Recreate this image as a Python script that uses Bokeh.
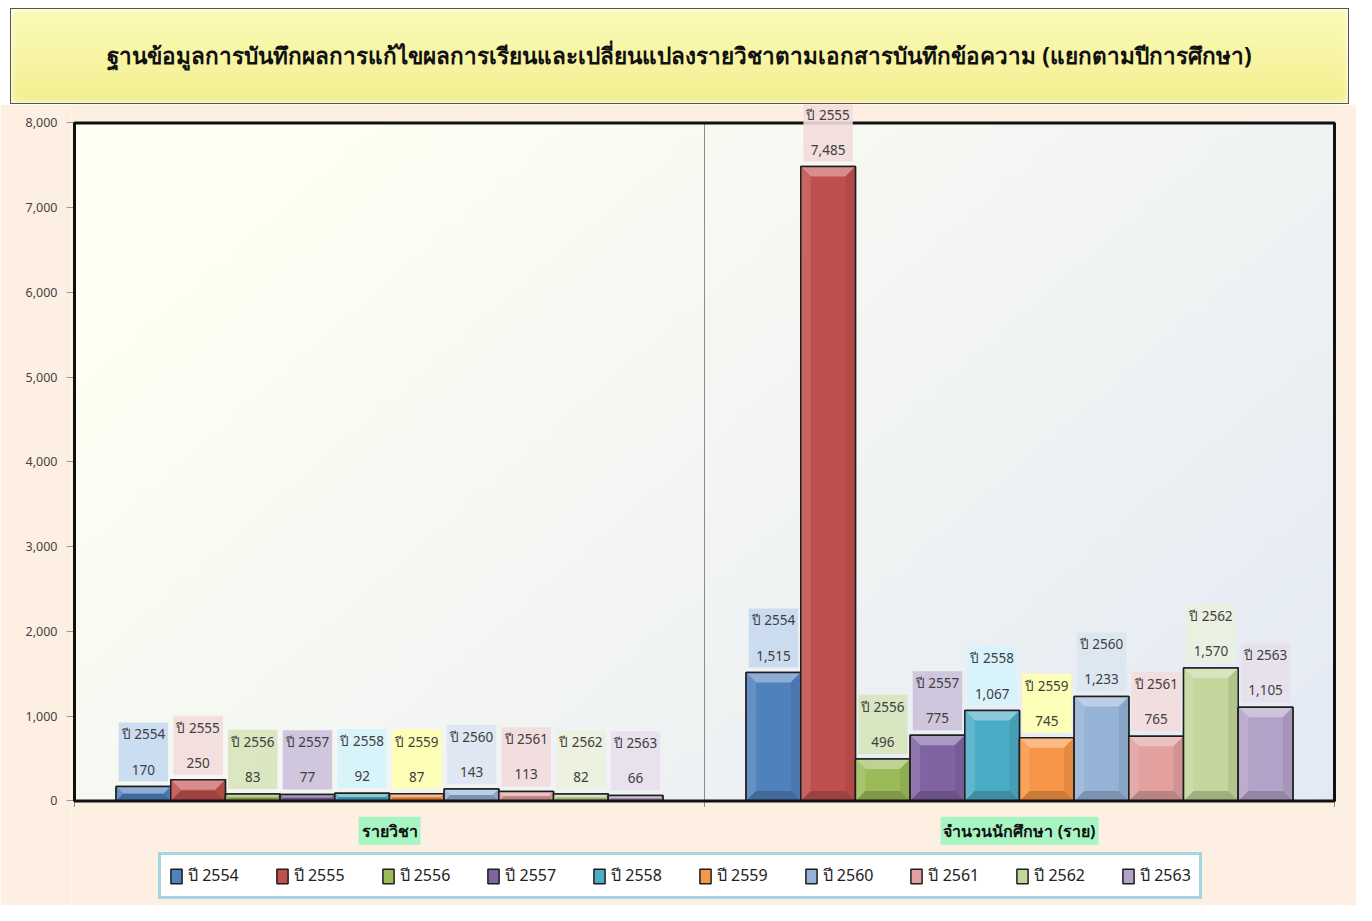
import numpy as np
from bokeh.plotting import figure
from bokeh.models import (Range1d, FixedTicker, NumeralTickFormatter, Label, BoxAnnotation,
                          Legend, LegendItem, ColumnDataSource, Div)
from bokeh.layouts import column
from bokeh.embed import file_html
from bokeh.resources import INLINE

# ---------------- data ----------------
title_text = "ฐานข้อมูลการบันทึกผลการแก้ไขผลการเรียนและเปลี่ยนแปลงรายวิชาตามเอกสารบันทึกข้อความ (แยกตามปีการศึกษา)"
categories = ["รายวิชา", "จำนวนนักศึกษา (ราย)"]
years = ["ปี 2554", "ปี 2555", "ปี 2556", "ปี 2557", "ปี 2558",
         "ปี 2559", "ปี 2560", "ปี 2561", "ปี 2562", "ปี 2563"]
subjects = [170, 250, 83, 77, 92, 87, 143, 113, 82, 66]
students = [1515, 7485, 496, 775, 1067, 745, 1233, 765, 1570, 1105]
y_ticks = [0, 1000, 2000, 3000, 4000, 5000, 6000, 7000, 8000]

# ---------------- styles ----------------
bar_colors = ["#4F81BD", "#C0504D", "#9BBB59", "#8064A2", "#4BACC6",
              "#F79646", "#95B3D7", "#E2A09F", "#C3D69B", "#B3A2C7"]
label_bg = ["#C6D9F0", "#F2DCDB", "#D7E4BC", "#CCC1DA", "#D6F3FC",
            "#FFFFB0", "#DCE6F2", "#F2DCDB", "#EBF1DE", "#E5E0EC"]
thai_font = "Noto Sans"
PEACH = "#FDF0E3"

Y_TOP = y_ticks[-1]
X_LO, X_HI = -0.5, len(categories) - 0.5
Y_LO, Y_HI = -1233, 8218
FIG_W, FIG_H = 1356, 801
BORDER_L, BORDER_R = 71, 19
PAD_PX = 3
AREA_PX = FIG_W - BORDER_L - BORDER_R - 2 * PAD_PX
UX = (X_HI - X_LO) / AREA_PX          # data units per pixel (x)
UY = (Y_HI - Y_LO) / FIG_H            # data units per pixel (y)


def mix(hex_color, other, f):
    a = [int(hex_color[i:i + 2], 16) for i in (1, 3, 5)]
    return "#" + "".join(f"{int(round(c + (other - c) * f)):02X}" for c in a)


title_div = Div(
    text=f'<div style="box-sizing:border-box;margin:8px 0 0 10px;width:1339px;height:96px;'
         f'display:flex;align-items:center;justify-content:center;'
         f'background:linear-gradient(#FBFAB6,#F7F4A2 55%,#F2EE8E);'
         f'border:1px solid #555;box-shadow:inset 0 0 7px rgba(255,255,255,0.95);'
         f'font-family:Tahoma,\'Noto Sans\',sans-serif;font-weight:bold;font-size:22.5px;color:#111;">'
         f'{title_text}</div>',
    width=FIG_W, height=104, margin=(0, 0, 0, 0))

p = figure(width=FIG_W, height=FIG_H, output_backend="svg", toolbar_location=None,
           x_range=Range1d(X_LO - PAD_PX * UX, X_HI + PAD_PX * UX), y_range=Range1d(Y_LO, Y_HI),
           min_border_left=BORDER_L, min_border_right=BORDER_R, min_border_top=0, min_border_bottom=0)
p.border_fill_color = PEACH
p.background_fill_color = PEACH
p.outline_line_color = None
p.xgrid.visible = False
p.ygrid.visible = False
p.xaxis.visible = False

# background gradient of the plot area
gx = np.linspace(0, 1, 200)[None, :]
gy = np.linspace(0, 1, 100)[:, None]
t = np.clip(0.62 * gx + 0.38 * (1 - gy) - 0.12, 0, 1)
c0 = np.array([255, 255, 242]); c1 = np.array([224, 231, 245])
img = np.empty((100, 200), dtype=np.uint32)
view = img.view(dtype=np.uint8).reshape((100, 200, 4))
for k in range(3):
    view[:, :, k] = (c0[k] + (c1[k] - c0[k]) * t).astype(np.uint8)
view[:, :, 3] = 255
p.image_rgba(image=[img], x=X_LO, y=0, dw=X_HI - X_LO, dh=Y_TOP)

# y axis
p.yaxis.ticker = FixedTicker(ticks=y_ticks)
p.yaxis.formatter = NumeralTickFormatter(format="0,0")
p.yaxis.major_label_text_font = "Noto Sans"
p.yaxis.major_label_text_font_size = "12.5px"
p.yaxis.major_label_text_color = "#444444"
p.yaxis.major_tick_out = 5
p.yaxis.major_tick_in = 3
p.yaxis.major_tick_line_color = "#999999"
p.yaxis.minor_tick_line_color = None
p.yaxis.axis_line_color = None
p.yaxis.major_label_standoff = 9

# category boundary ticks and divider
bounds = [X_LO + i for i in range(len(categories) + 1)]
p.segment(x0=bounds, y0=[-6 * UY] * len(bounds), x1=bounds,
          y1=[0 if b in (X_LO, X_HI) else Y_TOP for b in bounds],
          line_color="#8C8C8C", line_width=1)

# bars (with bevel)
n = len(years)
group_frac = 0.868
bw = group_frac / n
BEVEL_PX = 10
items = []
for j, yr in enumerate(years):
    off = (j - (n - 1) / 2) * bw
    vals = [subjects[j], students[j]]
    xs = [i + off for i in range(len(categories))]
    src = ColumnDataSource(dict(x=xs, top=vals))
    r = p.vbar(x="x", top="top", width=bw, source=src, fill_color=bar_colors[j],
               line_color="#1E1E1E", line_width=1.5)
    items.append(LegendItem(label=yr, renderers=[r]))
    px_, py_, pc_ = [], [], []
    for x, v in zip(xs, vals):
        l, rr = x - bw / 2, x + bw / 2
        b = min(BEVEL_PX, (v / UY) / 2, (bw / UX) / 2)
        bx, by = b * UX, b * UY
        # top, left, right, bottom facets
        px_ += [[l, rr, rr - bx, l + bx], [l, l + bx, l + bx, l],
                [rr, rr - bx, rr - bx, rr], [l, rr, rr - bx, l + bx]]
        py_ += [[v, v, v - by, v - by], [v, v - by, by, 0],
                [v, v - by, by, 0], [0, 0, by, by]]
        pc_ += [mix(bar_colors[j], 255, 0.35), mix(bar_colors[j], 255, 0.12),
                mix(bar_colors[j], 0, 0.08), mix(bar_colors[j], 0, 0.18)]
    p.patches(xs=px_, ys=py_, fill_color=pc_, line_color=None)
    p.vbar(x="x", top="top", width=bw, source=src, fill_color=None,
           line_color="#1E1E1E", line_width=1.5)

# plot frame border
p.add_layout(BoxAnnotation(left=X_LO, right=X_HI, bottom=0, top=Y_TOP, fill_alpha=0,
                           line_color="#111111", line_alpha=1, line_width=3))

# value labels
for j, yr in enumerate(years):
    off = (j - (n - 1) / 2) * bw
    for i, v in enumerate([subjects[j], students[j]]):
        p.add_layout(Label(x=i + off, y=v, y_offset=5, text=f"{yr}\n{v:,}",
                           text_align="center", text_baseline="bottom",
                           text_font=thai_font, text_font_size="13.5px", text_color="#404040",
                           text_line_height=1.95, background_fill_color=label_bg[j],
                           background_fill_alpha=0.9, padding=3))

# category labels
for i, c in enumerate(categories):
    p.add_layout(Label(x=i, y=-350, text=c, text_align="center", text_baseline="middle",
                       text_font=thai_font, text_font_size="16px", text_font_style="bold",
                       text_color="#111111", background_fill_color="#A8F5C4", padding=3))

legend = Legend(items=items, orientation="horizontal", location=(87, 6),
                border_line_color="#4BACC6", border_line_width=3,
                background_fill_color="white", background_fill_alpha=1,
                label_text_font=thai_font, label_text_font_size="16px", label_text_color="#222222",
                glyph_width=14, glyph_height=18, spacing=36, padding=8, margin=0,
                label_standoff=5)
p.add_layout(legend)

page = column(title_div, p, spacing=0)

open("out.html", "w").write(file_html(page, INLINE))
